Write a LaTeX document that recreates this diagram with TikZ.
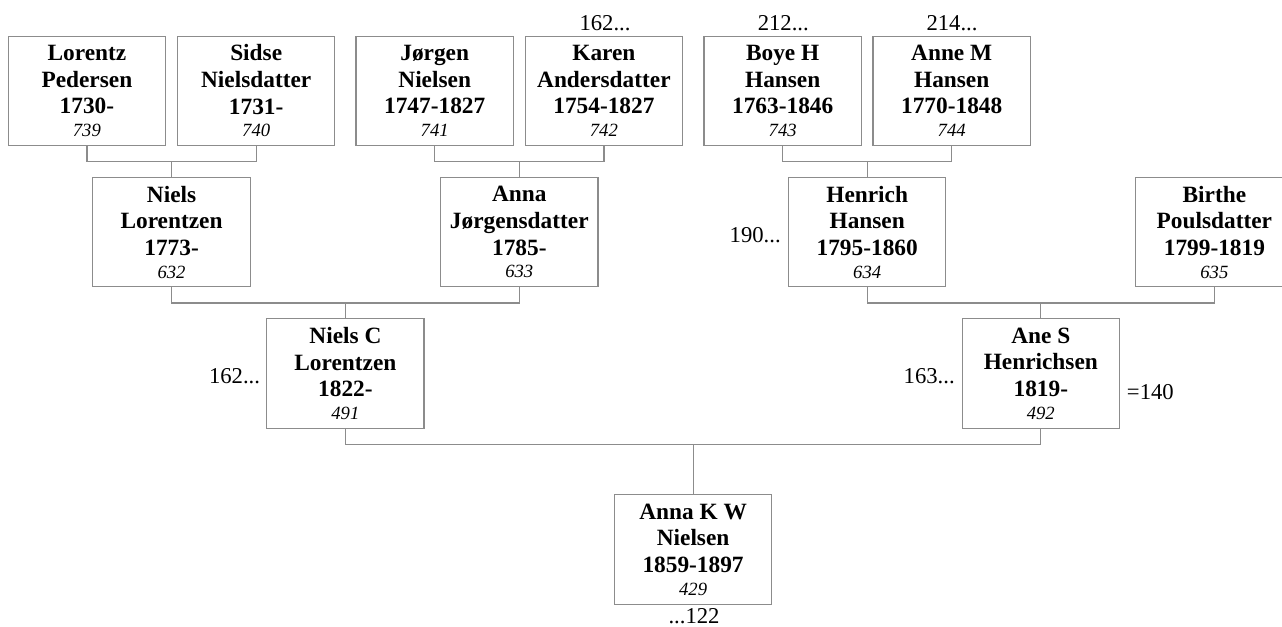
\documentclass[tikz,border=0pt]{standalone}
\usepackage{fontspec}
\setmainfont{Liberation Serif}
\definecolor{lg}{RGB}{140,140,140}
\tikzset{
  person/.style={draw=lg, line width=0.9pt, minimum width=118pt, minimum height=82pt,
    inner sep=0pt, align=center, font=\fontsize{17.5}{20}\selectfont\bfseries},
  conn/.style={draw=lg, line width=0.9pt},
  lbl/.style={font=\fontsize{17}{20}\selectfont, inner sep=0pt}
}
\newcommand{\pnum}[1]{\\[-3pt]{\fontsize{14}{17}\selectfont\mdseries\itshape #1}}
\begin{document}
\begin{tikzpicture}[x=0.75pt,y=-0.75pt]
\useasboundingbox (0,0) rectangle (1282,627);
% generation 1
\node[person] (lor) at (86.9,90.8) {Lorentz\\Pedersen\\1730-\pnum{739}};
\node[person] (sid) at (256.2,90.8) {Sidse\\Nielsdatter\\1731-\pnum{740}};
\node[person] (jor) at (434.7,90.8) {Jørgen\\Nielsen\\1747-1827\pnum{741}};
\node[person] (kar) at (603.9,90.8) {Karen\\Andersdatter\\1754-1827\pnum{742}};
\node[person] (boy) at (782.7,90.8) {Boye H\\Hansen\\1763-1846\pnum{743}};
\node[person] (ann) at (951.7,90.8) {Anne M\\Hansen\\1770-1848\pnum{744}};
% generation 2
\node[person] (nie) at (171.55,232.2) {Niels\\Lorentzen\\1773-\pnum{632}};
\node[person] (anj) at (519.3,232.2) {Anna\\Jørgensdatter\\1785-\pnum{633}};
\node[person] (hen) at (867.2,232.2) {Henrich\\Hansen\\1795-1860\pnum{634}};
\node[person] (bir) at (1214.4,232.2) {Birthe\\Poulsdatter\\1799-1819\pnum{635}};
% generation 3
\node[person] (nic) at (345.4,373.5) {Niels C\\Lorentzen\\1822-\pnum{491}};
\node[person] (ane) at (1040.8,373.5) {Ane S\\Henrichsen\\1819-\pnum{492}};
% generation 4
\node[person] (akw) at (693.1,549.5) {Anna K W\\Nielsen\\1859-1897\pnum{429}};
% junctions
\coordinate (j1) at (nie.north |- 0,161.5);
\coordinate (j2) at (anj.north |- 0,161.5);
\coordinate (j3) at (hen.north |- 0,161.5);
\coordinate (j4) at (nic.north |- 0,303);
\coordinate (j5) at (ane.north |- 0,303);
\coordinate (j6) at (akw.north |- 0,444.3);
% connectors
\draw[conn] (lor.south) |- (j1) -| (sid.south);
\draw[conn] (j1) -- (nie.north);
\draw[conn] (jor.south) |- (j2) -| (kar.south);
\draw[conn] (j2) -- (anj.north);
\draw[conn] (boy.south) |- (j3) -| (ann.south);
\draw[conn] (j3) -- (hen.north);
\draw[conn] (nie.south) |- (j4) -| (anj.south);
\draw[conn] (j4) -- (nic.north);
\draw[conn] (hen.south) |- (j5) -| (bir.south);
\draw[conn] (j5) -- (ane.north);
\draw[conn] (nic.south) |- (j6) -| (ane.south);
\draw[conn] (j6) -- (akw.north);
% outside labels
\node[lbl, anchor=base] (t1) at (605,31) {162...};
\node[lbl, anchor=base] (t2) at (783.3,31) {212...};
\node[lbl, anchor=base] (t3) at (952,31) {214...};
\node[lbl, anchor=base east] (t4) at (781,242.3) {190...};
\node[lbl, anchor=base east] (t5) at (260.3,383.3) {162...};
\node[lbl, anchor=base east] (t6) at (955,383.3) {163...};
\node[lbl, anchor=base west] (t7) at (1126.7,399) {=140};
\node[lbl, anchor=base] (t8) at (694,623.5) {...122};
\end{tikzpicture}
\end{document}
